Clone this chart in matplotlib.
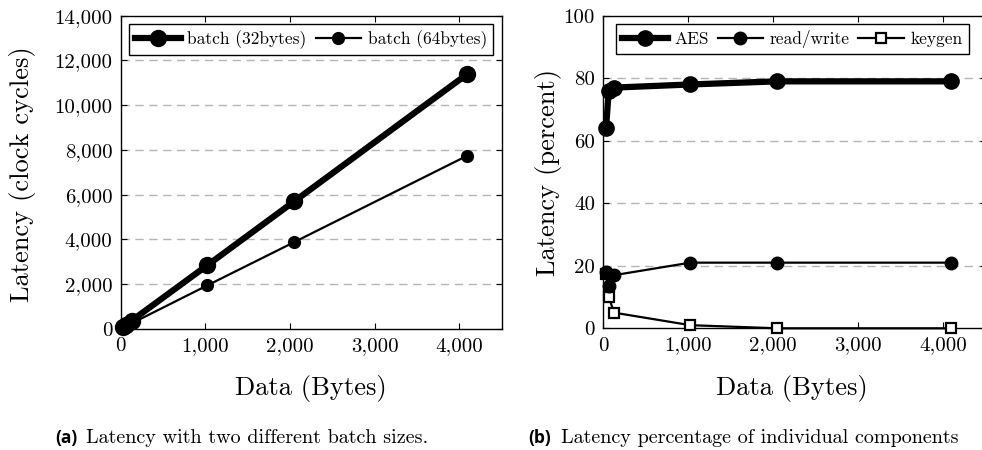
import matplotlib
matplotlib.use("Agg")
import matplotlib.pyplot as plt

# ---- data ----
data_bytes = [32, 64, 128, 1024, 2048, 4096]
batch32 = [100, 190, 370, 2850, 5700, 11400]
batch64 = [70, 130, 250, 1950, 3880, 7750]

aes = [64, 76, 77, 78, 79, 79]
read_write = [18, 13.5, 17, 21, 21, 21]
keygen = [17.5, 10, 5, 1, 0, 0]

x_ticks = [0, 1000, 2000, 3000, 4000]
x_ticklabels = ["0", "1,000", "2,000", "3,000", "4,000"]
yl_ticks = [0, 2000, 4000, 6000, 8000, 10000, 12000, 14000]
yl_ticklabels = ["0", "2,000", "4,000", "6,000", "8,000", "10,000", "12,000", "14,000"]
yr_ticks = [0, 20, 40, 60, 80, 100]
yr_ticklabels = ["0", "20", "40", "60", "80", "100"]

plt.rcParams['font.family'] = ['cmr10', 'DejaVu Serif']
plt.rcParams['axes.unicode_minus'] = False

W, H = 982, 450
fig = plt.figure(figsize=(W / 100, H / 100), dpi=100)

def px_axes(x0, y0, x1, y1):
    return fig.add_axes([x0 / W, 1 - y1 / H, (x1 - x0) / W, (y1 - y0) / H])

TICK_FS = 15
LEG_FS = 12.5
LAB_FS = 19.1
CAP_FS = 14.5

def style(ax, yticks, ylabels, ylim):
    ax.set_xlim(0, 4500)
    ax.set_ylim(*ylim)
    ax.set_xticks(x_ticks)
    ax.set_xticklabels(x_ticklabels, fontsize=TICK_FS)
    ax.set_yticks(yticks)
    ax.set_yticklabels(ylabels, fontsize=TICK_FS)
    ax.tick_params(direction='in', top=True, right=True, length=4, width=0.8, pad=6)
    for g in yticks[1:-1]:
        ax.axhline(g, color='#b5b5b5', lw=1.0, ls=(0, (6, 4)), zorder=0)
    for s in ax.spines.values():
        s.set_linewidth(1.0)

# ---- left ----
ax1 = px_axes(120.7, 15.7, 501.7, 329)
style(ax1, yl_ticks, yl_ticklabels, (0, 14000))
ax1.plot(data_bytes, batch32, color='black', lw=4.5, marker='o', ms=11.5,
         label='batch (32bytes)', clip_on=False, zorder=3)
ax1.plot(data_bytes, batch64, color='black', lw=1.6, marker='o', ms=8.5,
         label='batch (64bytes)', clip_on=False, zorder=3)
leg = ax1.legend(loc='upper center', bbox_to_anchor=(0.5, 0.99), ncol=2,
                 fontsize=LEG_FS, frameon=True, fancybox=False, framealpha=1,
                 edgecolor='black', handlelength=2.6, handletextpad=0.4,
                 columnspacing=0.5, borderpad=0.35, borderaxespad=0.3)
leg.get_frame().set_linewidth(1.0)

# ---- right ----
ax2 = px_axes(603.3, 15.7, 985.5, 328.3)
style(ax2, yr_ticks, yr_ticklabels, (0, 100))
ax2.plot(data_bytes, aes, color='black', lw=4.5, marker='o', ms=11, label='AES',
         clip_on=False, zorder=3)
ax2.plot(data_bytes, read_write, color='black', lw=1.6, marker='o', ms=9,
         label='read/write', clip_on=False, zorder=4)
ax2.plot(data_bytes, keygen, color='black', lw=1.6, marker='s', ms=7.5,
         mfc='white', mec='black', mew=1.6, label='keygen', clip_on=False, zorder=3.5)
leg2 = ax2.legend(loc='upper center', bbox_to_anchor=(0.495, 0.99), ncol=3,
                  fontsize=LEG_FS, frameon=True, fancybox=False, framealpha=1,
                  edgecolor='black', handlelength=2.6, handletextpad=0.4,
                  columnspacing=0.5, borderpad=0.35, borderaxespad=0.3)
leg2.get_frame().set_linewidth(1.0)

# ---- axis labels ----
fig.text(23 / W, 1 - 174 / H, 'Latency (clock cycles)', rotation=90,
         ha='center', va='center', fontsize=LAB_FS)
fig.text(548 / W, 1 - 172 / H, 'Latency (percent)', rotation=90,
         ha='center', va='center', fontsize=LAB_FS)
fig.text(311 / W, 1 - 388 / H, 'Data (Bytes)', ha='center', va='center', fontsize=LAB_FS)
fig.text(792 / W, 1 - 388 / H, 'Data (Bytes)', ha='center', va='center', fontsize=LAB_FS)

# ---- captions ----
fig.text(55 / W, 1 - 438 / H, '(a)', ha='left', va='center', fontsize=12.5,
         fontweight='bold', family=['Open Sans', 'DejaVu Sans'])
fig.text(86 / W, 1 - 438 / H, 'Latency with two different batch sizes.',
         ha='left', va='center', fontsize=CAP_FS)
fig.text(528 / W, 1 - 438 / H, '(b)', ha='left', va='center', fontsize=12.5,
         fontweight='bold', family=['Open Sans', 'DejaVu Sans'])
fig.text(561 / W, 1 - 438 / H, 'Latency percentage of individual components',
         ha='left', va='center', fontsize=CAP_FS)

fig.savefig('out.png', dpi=100)
